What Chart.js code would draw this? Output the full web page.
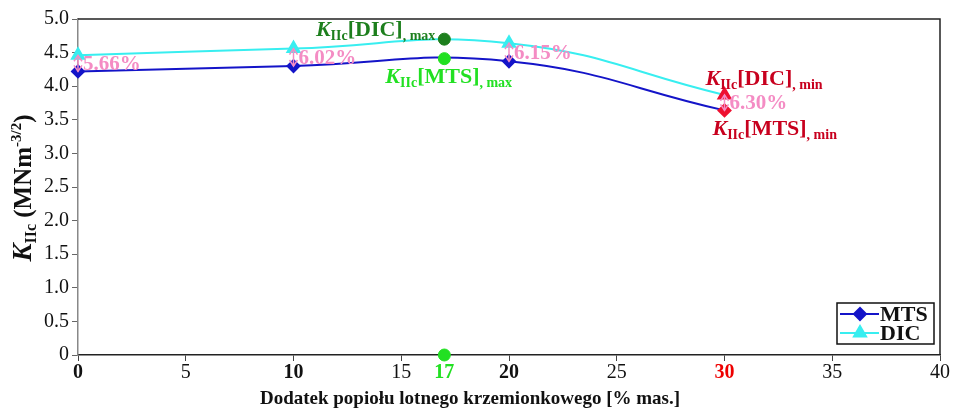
<!DOCTYPE html>
<html>
<head>
<meta charset="utf-8">
<script src="https://cdn.jsdelivr.net/npm/chart.js@4.4.1/dist/chart.umd.min.js"></script>
<style>
  html, body { margin: 0; padding: 0; background: #fff; }
  #wrap { width: 956px; height: 408px; }
</style>
</head>
<body>
<div id="wrap"><canvas id="kChart" width="956" height="408"></canvas></div>
<script>
// dodatek popiołu [% mas.] i wartości K_IIc [MNm^-3/2]
const dodatek = [0, 10, 20, 30];
const kMTS = [4.22, 4.30, 4.37, 3.64];
const kDIC = [4.46, 4.56, 4.64, 3.87];
const roznica = ['5.66%', '6.02%', '6.15%', '6.30%'];

// maksimum przy 17% dodatku
const xMax = 17;
const maxMTS = 4.41;
const maxDIC = 4.70;

const xTicks = [0, 5, 10, 15, 17, 20, 25, 30, 35, 40];
const yTicks = [0, 0.5, 1.0, 1.5, 2.0, 2.5, 3.0, 3.5, 4.0, 4.5, 5.0];

const SERIF = '"Liberation Serif", "Times New Roman", serif';
const PINK = '#f48cc4';
const RED = '#c8001e';
const DGREEN = '#1d7f1d';
const LGREEN = '#22e022';

function pts(xs, ys) {
    return xs.map(function (x, i) { return {x: x, y: ys[i]}; });
}

// tekst z indeksami dolnymi/górnymi rysowany kawałkami
function richText(ctx, x, y, parts, color) {
    ctx.save();
    ctx.fillStyle = color;
    ctx.textBaseline = 'alphabetic';
    ctx.textAlign = 'left';
    var cx = x;
    parts.forEach(function (p) {
        ctx.font = p.font;
        ctx.fillText(p.t, cx, y + (p.dy || 0));
        cx += ctx.measureText(p.t).width;
    });
    ctx.restore();
    return cx - x;
}

function textWidth(ctx, parts) {
    ctx.save();
    var w = 0;
    parts.forEach(function (p) {
        ctx.font = p.font;
        w += ctx.measureText(p.t).width;
    });
    ctx.restore();
    return w;
}

function kLabel(bracket, sub) {
    return [
        {t: 'K', font: 'italic bold 22px ' + SERIF},
        {t: 'IIc', font: 'bold 14px ' + SERIF, dy: 4},
        {t: '[' + bracket + ']', font: 'bold 22px ' + SERIF},
        {t: ', ' + sub, font: 'bold 14px ' + SERIF, dy: 4}
    ];
}

function arrowHead(ctx, x, y, dir) {
    ctx.beginPath();
    ctx.moveTo(x - 4, y + dir * 6);
    ctx.lineTo(x, y);
    ctx.lineTo(x + 4, y + dir * 6);
    ctx.stroke();
}

const extras = {
    id: 'extras',
    afterDatasetsDraw: function (chart) {
        const ctx = chart.ctx;
        const xs = chart.scales.x, ys = chart.scales.y;
        const area = chart.chartArea;

        // ramka wykresu (góra i prawa strona)
        ctx.save();
        ctx.strokeStyle = '#222';
        ctx.lineWidth = 1.5;
        ctx.beginPath();
        ctx.moveTo(area.left, area.top);
        ctx.lineTo(area.right, area.top);
        ctx.lineTo(area.right, area.bottom);
        ctx.stroke();
        ctx.restore();

        // strzałki różnicy DIC/MTS i opisy procentowe
        ctx.save();
        ctx.strokeStyle = PINK;
        ctx.fillStyle = PINK;
        ctx.lineWidth = 1.5;
        dodatek.forEach(function (d, i) {
            const px = xs.getPixelForValue(d);
            const y1 = ys.getPixelForValue(kMTS[i]);
            const y2 = ys.getPixelForValue(kDIC[i]);
            ctx.beginPath();
            ctx.moveTo(px, y1);
            ctx.lineTo(px, y2);
            ctx.stroke();
            arrowHead(ctx, px, y2, 1);
            arrowHead(ctx, px, y1, -1);
            ctx.font = 'bold 21px ' + SERIF;
            ctx.textBaseline = 'middle';
            ctx.fillText(roznica[i], px + 5, (y1 + y2) / 2 + 1);
        });
        ctx.restore();

        // opisy maksimum i minimum
        const p17 = xs.getPixelForValue(xMax);
        const dicMax = kLabel('DIC', 'max');
        richText(ctx, p17 - 9 - textWidth(ctx, dicMax), ys.getPixelForValue(maxDIC) - 3, dicMax, DGREEN);
        richText(ctx, p17 - 59, ys.getPixelForValue(maxMTS) + 24, kLabel('MTS', 'max'), LGREEN);
        const p30 = xs.getPixelForValue(30);
        richText(ctx, p30 - 19, ys.getPixelForValue(kDIC[3]) - 10, kLabel('DIC', 'min'), RED);
        richText(ctx, p30 - 12, ys.getPixelForValue(kMTS[3]) + 25, kLabel('MTS', 'min'), RED);

        // legenda
        ctx.save();
        const lx = 837, ly = 303, lw = 97, lh = 41;
        ctx.fillStyle = '#fff';
        ctx.fillRect(lx, ly, lw, lh);
        ctx.strokeStyle = '#111';
        ctx.lineWidth = 1.5;
        ctx.strokeRect(lx, ly, lw, lh);
        const rows = [
            {name: 'MTS', color: '#1414c8', style: 'rectRot', r: 6, y: ly + 11},
            {name: 'DIC', color: '#38eef0', style: 'triangle', r: 7, y: ly + 30}
        ];
        rows.forEach(function (r) {
            ctx.strokeStyle = r.color;
            ctx.fillStyle = r.color;
            ctx.lineWidth = 2;
            ctx.beginPath();
            ctx.moveTo(lx + 3, r.y);
            ctx.lineTo(lx + 42, r.y);
            ctx.stroke();
            Chart.helpers.drawPoint(ctx, {pointStyle: r.style, radius: r.r, borderWidth: 1}, lx + 23, r.y);
            ctx.fillStyle = '#111';
            ctx.font = 'bold 22px ' + SERIF;
            ctx.textBaseline = 'middle';
            ctx.fillText(r.name, lx + 43, r.y + 1);
        });
        ctx.restore();

        // tytuły osi
        ctx.save();
        ctx.fillStyle = '#111';
        ctx.font = 'bold 19px ' + SERIF;
        ctx.textAlign = 'center';
        ctx.textBaseline = 'alphabetic';
        ctx.fillText('Dodatek popiołu lotnego krzemionkowego [% mas.]', 470, 404);
        ctx.restore();

        ctx.save();
        ctx.translate(31, (area.top + area.bottom) / 2 + 1);
        ctx.rotate(-Math.PI / 2);
        const yParts = [
            {t: 'K', font: 'italic bold 27px ' + SERIF},
            {t: 'IIc', font: 'bold 16px ' + SERIF, dy: 5},
            {t: ' (MNm', font: 'bold 25px ' + SERIF},
            {t: '-3/2', font: 'bold 15px ' + SERIF, dy: -10},
            {t: ')', font: 'bold 25px ' + SERIF}
        ];
        const w = textWidth(ctx, yParts);
        richText(ctx, -w / 2, 0, yParts, '#111');
        ctx.restore();
    }
};

function tickFont(v) {
    const bold = [0, 10, 17, 20, 30].indexOf(v) >= 0;
    return {family: SERIF, size: 20, weight: bold ? 'bold' : 'normal'};
}

function tickColor(v) {
    if (v === 17) return LGREEN;
    if (v === 30) return '#ee0000';
    return '#111';
}

const ctx = document.getElementById('kChart').getContext('2d');
const kChart = new Chart(ctx, {
    type: 'line',
    data: {
        datasets: [
            {
                label: 'MTS',
                data: pts(dodatek, kMTS),
                borderColor: '#1414c8',
                borderWidth: 2,
                tension: 0.45,
                pointStyle: 'rectRot',
                pointRadius: 6,
                pointBackgroundColor: ['#1414c8', '#1414c8', '#1414c8', '#ee1030'],
                pointBorderColor: ['#1414c8', '#1414c8', '#1414c8', '#ee1030'],
                clip: false,
                order: 2
            },
            {
                label: 'DIC',
                data: pts(dodatek, kDIC),
                borderColor: '#38eef0',
                borderWidth: 2,
                tension: 0.45,
                pointStyle: 'triangle',
                pointRadius: 7,
                pointBackgroundColor: ['#38eef0', '#38eef0', '#38eef0', '#ee1030'],
                pointBorderColor: ['#38eef0', '#38eef0', '#38eef0', '#ee1030'],
                clip: false,
                order: 1
            },
            {
                label: 'max',
                data: [{x: xMax, y: maxDIC}, {x: xMax, y: maxMTS}, {x: xMax, y: 0}],
                showLine: false,
                pointStyle: 'circle',
                pointRadius: 6,
                pointBackgroundColor: [DGREEN, LGREEN, LGREEN],
                pointBorderColor: [DGREEN, LGREEN, LGREEN],
                clip: false,
                order: 0
            }
        ]
    },
    options: {
        responsive: false,
        animation: false,
        layout: {padding: {top: 19, right: 16, left: 0, bottom: 0}},
        plugins: {
            legend: {display: false},
            tooltip: {enabled: false}
        },
        scales: {
            x: {
                type: 'linear',
                min: 0,
                max: 40,
                afterBuildTicks: function (scale) {
                    scale.ticks = xTicks.map(function (v) { return {value: v}; });
                },
                afterFit: function (scale) { scale.height = 53; },
                border: {color: '#222', width: 1.5},
                grid: {
                    drawOnChartArea: false,
                    tickLength: 6,
                    color: function (c) { return c.tick && c.tick.value === 17 ? 'rgba(0,0,0,0)' : '#444'; }
                },
                ticks: {
                    autoSkip: false,
                    maxRotation: 0,
                    padding: 0,
                    font: function (c) { return tickFont(c.tick ? c.tick.value : 0); },
                    color: function (c) { return tickColor(c.tick ? c.tick.value : 0); },
                    callback: function (v) { return String(v); }
                }
            },
            y: {
                min: 0,
                max: 5,
                afterBuildTicks: function (scale) {
                    scale.ticks = yTicks.map(function (v) { return {value: v}; });
                },
                afterFit: function (scale) { scale.width = 78; },
                border: {color: '#888', width: 1.5},
                grid: {drawOnChartArea: false, tickLength: 6, color: '#666'},
                ticks: {
                    padding: 3,
                    color: '#111',
                    font: {family: SERIF, size: 20},
                    callback: function (v) { return v === 0 ? '0' : v.toFixed(1); }
                }
            }
        }
    },
    plugins: [extras]
});
</script>
</body>
</html>
